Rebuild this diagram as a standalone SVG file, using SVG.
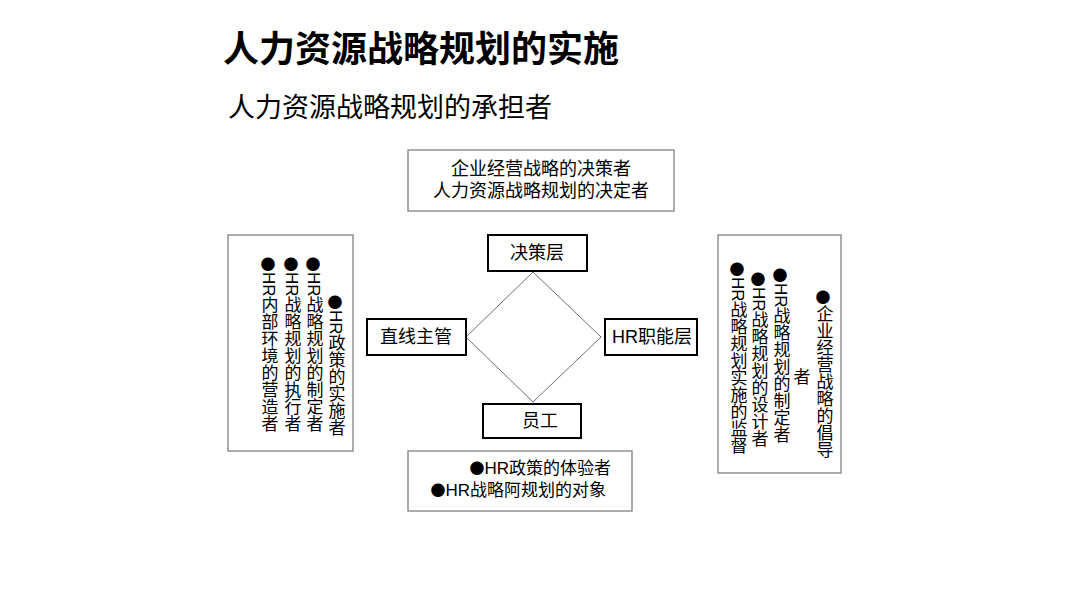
<svg xmlns="http://www.w3.org/2000/svg" width="1080" height="607" viewBox="0 0 1080 607">
<style>
text{font-family:"Liberation Sans","Noto Sans CJK SC",sans-serif;fill:#000}
.b{font-family:"Noto Sans CJK SC",sans-serif;font-size:0.88em}
.title{font-size:36px;font-weight:bold}
.sub{font-size:27px}
.t{font-size:18px}
.bt{font-size:17px}
.v{font-size:17px;writing-mode:vertical-rl}
.gbox{fill:#fff;stroke:#808080;stroke-width:1.3}
.nbox{fill:#fff;stroke:#000;stroke-width:2}
.c{text-anchor:middle}
.e{text-anchor:end}
</style>
<rect width="1080" height="607" fill="#fff"/>
<text class="title" x="223" y="62">人力资源战略规划的实施</text>
<text class="sub" x="228" y="117">人力资源战略规划的承担者</text>
<g id="connectors">
<polygon points="533,272 601,337 533,402 466,337" fill="none" stroke="#707070" stroke-width="1"/>
</g>
<g id="top-box">
<rect class="gbox" x="408" y="150" width="266" height="61"/>
<text class="t c" x="541" y="175">企业经营战略的决策者</text>
<text class="t c" x="541" y="197">人力资源战略规划的决定者</text>
</g>
<g id="left-box">
<rect class="gbox" x="228" y="235" width="125" height="216"/>
<text class="v" x="335" y="295"><tspan class="b">●</tspan>HR政策的实施者</text>
<text class="v" x="313" y="257"><tspan class="b">●</tspan>HR战略规划的制定者</text>
<text class="v" x="291" y="257"><tspan class="b">●</tspan>HR战略规划的执行者</text>
<text class="v" x="268" y="257"><tspan class="b">●</tspan>HR内部环境的营造者</text>
</g>
<g id="right-box">
<rect class="gbox" x="718" y="235" width="123" height="238"/>
<text class="v" x="823" y="290"><tspan class="b">●</tspan>企业经营战略的倡导</text>
<text class="v" x="800" y="368">者</text>
<text class="v" x="780" y="268"><tspan class="b">●</tspan>HR战略规划的制定者</text>
<text class="v" x="758" y="272"><tspan class="b">●</tspan>HR战略规划的设计者</text>
<text class="v" x="737" y="262"><tspan class="b">●</tspan>HR战略规划实施的监督</text>
</g>
<g id="bottom-box">
<rect class="gbox" x="408" y="451" width="224" height="60"/>
<text class="bt e" x="611" y="474"><tspan class="b">●</tspan>HR政策的体验者</text>
<text class="bt e" x="606" y="496"><tspan class="b">●</tspan>HR战略阿规划的对象</text>
</g>
<g id="node-decision">
<rect class="nbox" x="488" y="235" width="99" height="36"/>
<text class="t c" x="537" y="259">决策层</text>
</g>
<g id="node-line-manager">
<rect class="nbox" x="367" y="319" width="99" height="36"/>
<text class="t c" x="416" y="343">直线主管</text>
</g>
<g id="node-hr">
<rect class="nbox" x="605" y="319" width="92" height="36"/>
<text class="t c" x="652" y="343">HR职能层</text>
</g>
<g id="node-staff">
<rect class="nbox" x="483" y="404" width="98" height="34"/>
<text class="t c" x="540" y="427">员工</text>
</g>
</svg>
